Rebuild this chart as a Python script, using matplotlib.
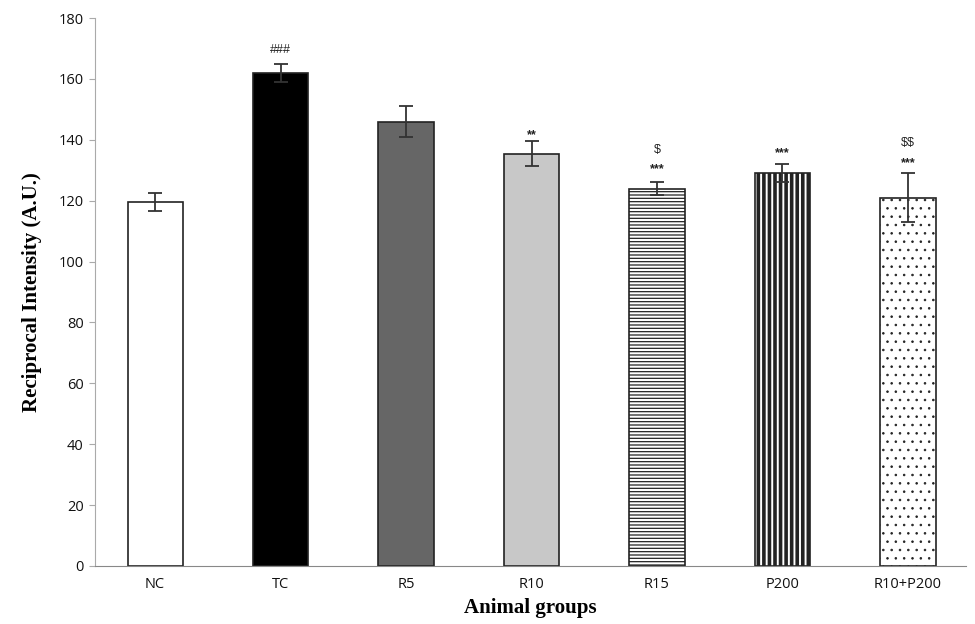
import matplotlib.pyplot as plt
import numpy as np

groups = ['NC', 'TC', 'R5', 'R10', 'R15', 'P200', 'R10+P200']
means = [119.5, 162, 146, 135.5, 124, 129, 121]
errs = [3, 3, 5, 4, 2, 3, 8]
colors = ['white', 'black', '#666666', '#c8c8c8', 'white', 'white', 'white']
hatches = [None, None, None, None, '-----', '|||', '..']
hatch_lw = [1.0, 1.0, 1.0, 1.0, 0.9, 2.6, 0.6]
marks = [[], [('###', 169.5)], [], [('**', 141.5)],
         [('***', 130.5), ('$', 136.5)], [('***', 135.5)],
         [('***', 132.5), ('$$', 139)]]

fig = plt.figure(figsize=(9.75, 6.24), dpi=100)
ax = fig.add_axes([0.0974, 0.093, 0.893, 0.878])

x = np.arange(len(groups))
for i in range(len(groups)):
    with plt.rc_context({'hatch.linewidth': hatch_lw[i]}):
        ax.bar(x[i], means[i], 0.44, color=colors[i], edgecolor='#222222',
               linewidth=1.2, hatch=hatches[i], zorder=2)
ax.errorbar(x, means, yerr=errs, fmt='none', ecolor='#333333',
            elinewidth=1.3, capsize=5, capthick=1.3, zorder=3)

for i, lst in enumerate(marks):
    for txt, yy in lst:
        ax.text(x[i], yy, txt, ha='center', va='center', fontsize=9,
                family='Liberation Sans', color='#222222', parse_math=False,
                fontweight='bold' if '*' in txt else 'normal')

ax.set_xlim(-0.48, 6.46)
ax.set_ylim(0, 180)
ax.set_yticks(np.arange(0, 181, 20))
ax.set_xticks(x)
ax.set_xticklabels(groups)
for lab in ax.get_xticklabels() + ax.get_yticklabels():
    lab.set_family('Open Sans')
    lab.set_fontsize(10.5)
    lab.set_color('#111111')
ax.tick_params(axis='x', length=0, pad=8)
ax.tick_params(axis='y', length=4, color='#aaaaaa', pad=4)
ax.spines['top'].set_visible(False)
ax.spines['right'].set_visible(False)
ax.spines['left'].set_color('#aaaaaa')
ax.spines['bottom'].set_color('#888888')
ax.set_ylabel('Reciprocal Intensity (A.U.)', family='Liberation Serif',
              fontweight='bold', fontsize=15, labelpad=12)
ax.set_xlabel('Animal groups', family='Liberation Serif',
              fontweight='bold', fontsize=15, labelpad=4)

fig.savefig('out.png', dpi=100)
